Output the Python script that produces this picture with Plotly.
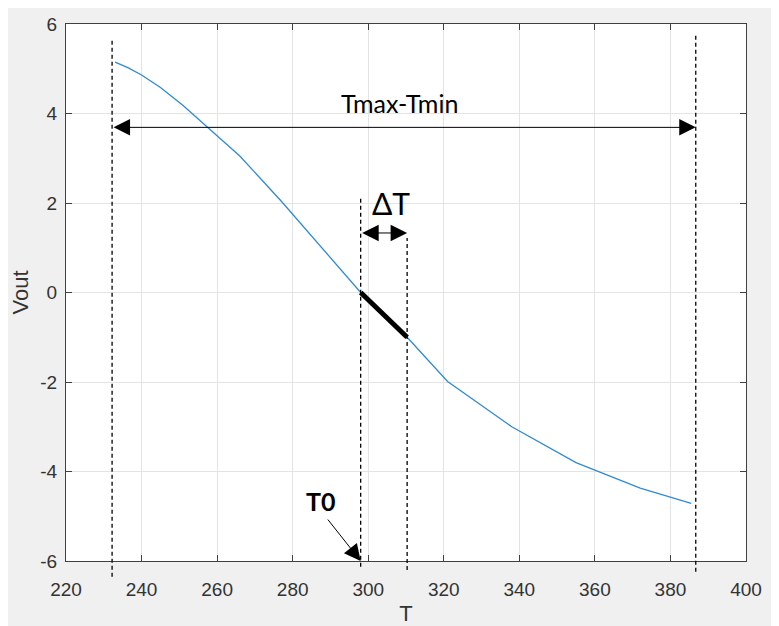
import plotly.graph_objects as go

# ---- data ----
T_vals = [233, 236.5, 240, 245, 251, 258, 266, 277, 290, 298, 310.3, 321, 338, 355, 372, 385.5]
V_vals = [5.15, 5.02, 4.86, 4.58, 4.18, 3.66, 3.05, 2.04, 0.77, 0.0, -1.0, -1.99, -3.0, -3.8, -4.37, -4.71]
x_ticks = [220, 240, 260, 280, 300, 320, 340, 360, 380, 400]
x_tick_text = ["220", "240", "260", "280", "300", "320", "340", "360", "380", "400"]
y_ticks = [-6, -4, -2, 0, 2, 4, 6]
y_tick_text = ["-6", "-4", "-2", "0", "2", "4", "6"]

T_min, T_max = 232.2, 386.7
T0, T1 = 298.0, 310.3
X_RANGE = [220, 400]
Y_RANGE = [-6, 6]

# dashed guide lines: (T, bottom value, top value)
guides = [(T_min, -6.35, 5.65), (T0, -6.13, 2.15), (T1, -6.2, 1.22), (T_max, -6.24, 5.8)]

def yp(v):
    return (v - Y_RANGE[0]) / (Y_RANGE[1] - Y_RANGE[0])

fig = go.Figure()
fig.add_trace(go.Scatter(x=T_vals, y=V_vals, mode="lines",
                         line=dict(color="#2f8bd2", width=1.3), showlegend=False))
i0, i1 = T_vals.index(T0), T_vals.index(T1)
fig.add_trace(go.Scatter(x=T_vals[i0:i1 + 1], y=V_vals[i0:i1 + 1], mode="lines",
                         line=dict(color="black", width=5), showlegend=False))

shapes = []
for t, b, tp in guides:
    shapes.append(dict(type="line", xref="x", yref="paper", x0=t, x1=t, y0=yp(b), y1=yp(tp),
                       line=dict(color="black", width=1.3, dash="4px,3px"), layer="above"))

annotations = []
arrow_style = dict(showarrow=True, arrowhead=2, arrowsize=3.3, arrowwidth=1,
                   arrowcolor="black", axref="x", ayref="y", text="")
y_span = 3.69
annotations.append(dict(x=T_max, y=y_span, ax=T_min, ay=y_span, arrowside="end+start", **arrow_style))
y_dt = 1.33
annotations.append(dict(x=T1, y=y_dt, ax=T0, ay=y_dt, arrowside="end+start", **arrow_style))
annotations.append(dict(x=T0, y=Y_RANGE[0], ax=289.0, ay=-5.04, arrowside="end", **arrow_style))

annotations.append(dict(x=308.4, y=4.24, text="Tmax-Tmin", showarrow=False,
                        font=dict(family="Lato", size=25, color="black")))
annotations.append(dict(x=306.0, y=2.0, text="ΔT", showarrow=False,
                        font=dict(family="Lato", size=30, color="black")))
annotations.append(dict(x=287.5, y=-4.67, text="<b>T0</b>", showarrow=False,
                        font=dict(family="Lato", size=25, color="black")))

axis_common = dict(showgrid=True, gridcolor="#e4e4e4", gridwidth=1, automargin=False,
                   showline=True, linecolor="#404040", linewidth=1, mirror="ticks",
                   ticks="inside", ticklen=6, tickcolor="#404040", zeroline=False,
                   tickfont=dict(family="Liberation Sans", size=19, color="#333333"))

fig.update_layout(
    width=771, height=618,
    margin=dict(l=58, r=33, t=16, b=65),
    paper_bgcolor="#f0f0f0", plot_bgcolor="white",
    shapes=shapes, annotations=annotations,
    xaxis=dict(range=X_RANGE, tickvals=x_ticks, ticktext=x_tick_text, ticklabelstandoff=11,
               title=dict(text="T", standoff=10,
                          font=dict(family="Liberation Sans", size=22, color="#333333")),
               **axis_common),
    yaxis=dict(range=Y_RANGE, tickvals=y_ticks, ticktext=y_tick_text, ticklabelstandoff=4,
               title=dict(text="Vout", standoff=11,
                          font=dict(family="Liberation Sans", size=22, color="#333333")),
               **axis_common),
)

fig.write_html("out.html")
